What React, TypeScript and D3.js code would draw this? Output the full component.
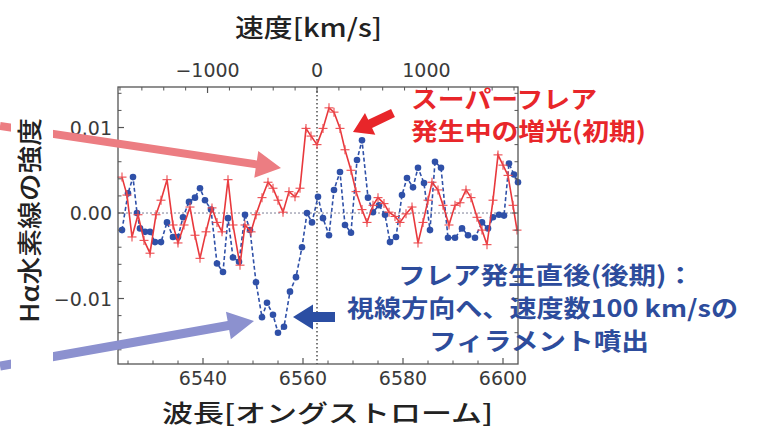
import React from 'react';
import * as d3 from 'd3';

// ---- data ----
const H_ALPHA = 6562.8;
const C_KMS = 299792.458;
const wavelengthDomain = [6523, 6603];
const intensityDomain = [-0.01766, 0.01474];

const blueWave = [6523.8, 6525.0, 6526.0, 6526.8, 6527.4, 6528.4, 6529.4, 6530.4, 6531.6, 6532.8, 6534.0, 6535.0, 6536.0, 6537.2, 6538.4, 6539.4, 6540.4, 6541.6, 6542.8, 6544.0, 6545.0, 6546.0, 6547.2, 6548.4, 6549.4, 6550.6, 6551.8, 6552.8, 6554.0, 6555.0, 6556.2, 6557.4, 6558.6, 6559.8, 6560.8, 6561.8, 6563.0, 6564.0, 6565.2, 6566.2, 6567.4, 6568.4, 6569.6, 6570.8, 6571.8, 6573.0, 6574.0, 6575.2, 6576.4, 6577.4, 6578.6, 6579.8, 6580.8, 6582.0, 6583.0, 6584.2, 6585.4, 6586.4, 6587.6, 6589.0, 6590.4, 6591.8, 6593.0, 6594.4, 6595.8, 6597.0, 6598.0, 6599.2, 6600.2, 6601.2, 6602.2, 6603.0];
const blueValue = [-0.0020, 0.0023, 0.0042, 0.0000, -0.0018, -0.0022, -0.0022, -0.0034, -0.0034, -0.0011, -0.0028, -0.0028, -0.0005, 0.0013, 0.0018, 0.0029, 0.0015, 0.0004, -0.0059, -0.0069, -0.0006, -0.0052, -0.0057, -0.0002, -0.0020, -0.0081, -0.0122, -0.0105, -0.0119, -0.0140, -0.0133, -0.0092, -0.0075, -0.0040, 0.0000, -0.0011, 0.0019, -0.0006, -0.0026, 0.0027, 0.0048, -0.0014, -0.0023, 0.0062, 0.0085, 0.0018, 0.0001, 0.0009, -0.0002, -0.0034, -0.0028, 0.0021, 0.0041, 0.0030, 0.0053, 0.0035, -0.0020, 0.0060, 0.0053, -0.0029, -0.0029, -0.0018, -0.0026, -0.0029, -0.0011, -0.0018, -0.0005, -0.0002, -0.0003, 0.0058, 0.0045, 0.0036];

const redWave = [6523.8, 6524.8, 6525.8, 6527.0, 6528.2, 6529.4, 6530.6, 6531.6, 6532.8, 6534.0, 6535.0, 6536.2, 6537.4, 6538.4, 6539.4, 6540.6, 6541.8, 6542.8, 6543.8, 6545.0, 6546.0, 6547.4, 6548.4, 6549.6, 6550.6, 6551.8, 6553.0, 6554.0, 6555.0, 6556.0, 6557.2, 6558.4, 6559.4, 6560.6, 6561.6, 6562.8, 6564.0, 6565.2, 6566.2, 6567.4, 6568.4, 6569.6, 6570.6, 6571.8, 6572.8, 6574.0, 6575.0, 6576.2, 6577.2, 6578.4, 6579.4, 6580.6, 6581.8, 6583.0, 6584.0, 6585.0, 6585.8, 6587.0, 6588.0, 6589.2, 6590.4, 6591.4, 6592.6, 6593.6, 6594.8, 6595.8, 6596.8, 6598.0, 6599.0, 6600.0, 6601.0, 6602.0, 6602.8];
const redValue = [0.0042, 0.0021, -0.0028, -0.0002, -0.0032, -0.0047, -0.0002, 0.0015, 0.0039, -0.0014, -0.0035, -0.0014, 0.0007, -0.0026, -0.0053, -0.0022, 0.0006, -0.0011, -0.0022, 0.0039, -0.0014, -0.0061, -0.0014, -0.0022, -0.0002, 0.0018, 0.0036, 0.0029, 0.0015, 0.0001, 0.0025, 0.0019, 0.0029, 0.0099, 0.0090, 0.0080, 0.0099, 0.0123, 0.0118, 0.0099, 0.0074, 0.0050, 0.0025, 0.0004, -0.0011, 0.0009, 0.0018, 0.0011, 0.0001, -0.0004, -0.0011, -0.0001, 0.0007, -0.0035, -0.0011, 0.0015, 0.0036, 0.0027, 0.0009, -0.0014, 0.0009, 0.0012, 0.0027, 0.0018, -0.0005, -0.0020, -0.0037, 0.0015, 0.0068, 0.0056, 0.0044, 0.0009, -0.0020];

const waveTicks = [6540, 6560, 6580, 6600];
const waveMinorTicks = [6525, 6530, 6535, 6545, 6550, 6555, 6565, 6570, 6575, 6585, 6590, 6595];
const velocityTicks = [-1000, 0, 1000];
const velocityMinorTicks = [-1800, -1600, -1400, -1200, -800, -600, -400, -200, 200, 400, 600, 800, 1200, 1400, 1600, 1800];
const intensityTicks = [-0.01, 0, 0.01];
const intensityMinorTicks = [-0.016, -0.014, -0.012, -0.008, -0.006, -0.004, -0.002, 0.002, 0.004, 0.006, 0.008, 0.012, 0.014];

const redTitle = ['スーパーフレア', '発生中の増光(初期)'];
const blueTitle = ['フレア発生直後(後期)：', '視線方向へ、速度数100 km/sの', 'フィラメント噴出'];

// arrows: [tailWave, tailValue, tipWave, tipValue]
const bigRedArrow = [6499.4, 0.01018, 6555.6, 0.00526];
const bigBlueArrow = [6499.4, -0.01789, 6550.2, -0.01263];
const smallRedArrow = [6578.0, 0.0117, 6570.0, 0.00947];
const smallBlueArrow = [6566.4, -0.01216, 6558.0, -0.01216];

const fmtVel = (v: number) => (v < 0 ? '\u2212' + Math.abs(v) : String(v));
const fmtInt = (v: number) => (v < 0 ? '\u2212' : '') + Math.abs(v).toFixed(2);

function arrowPath(x1: number, y1: number, x2: number, y2: number, sw: number, hl: number, hw: number) {
  const dx = x2 - x1, dy = y2 - y1;
  const L = Math.hypot(dx, dy);
  const ux = dx / L, uy = dy / L;
  const nx = -uy, ny = ux;
  const bx = x2 - ux * hl, by = y2 - uy * hl;
  const p = d3.path();
  p.moveTo(x1 + nx * sw / 2, y1 + ny * sw / 2);
  p.lineTo(bx + nx * sw / 2, by + ny * sw / 2);
  p.lineTo(bx + nx * hw / 2, by + ny * hw / 2);
  p.lineTo(x2, y2);
  p.lineTo(bx - nx * hw / 2, by - ny * hw / 2);
  p.lineTo(bx - nx * sw / 2, by - ny * sw / 2);
  p.lineTo(x1 - nx * sw / 2, y1 - ny * sw / 2);
  p.closePath();
  return p.toString();
}

export default function App() {
  const W = 762, H = 430;
  const x = d3.scaleLinear().domain(wavelengthDomain).range([118, 518]);
  const y = d3.scaleLinear().domain(intensityDomain).range([364, 87]);
  const velToWave = (v: number) => H_ALPHA * (1 + v / C_KMS);

  const blue = d3.zip(blueWave, blueValue) as [number, number][];
  const red = d3.zip(redWave, redValue) as [number, number][];
  const line = d3.line<[number, number]>().x(d => x(d[0])).y(d => y(d[1]));

  const [x0, x1] = x.range();
  const [yb, yt] = y.range();

  const tickFont = "'DejaVu Sans', sans-serif";
  const jpFont = "'Noto Sans CJK JP', sans-serif";
  const axisColor = '#555';
  const labelColor = '#3a3a3a';

  const arrow = (a: number[], sw: number, hl: number, hw: number) =>
    arrowPath(x(a[0]), y(a[1]), x(a[2]), y(a[3]), sw, hl, hw);

  return (
    <svg width={W} height={H} style={{ position: 'absolute', left: 0, top: 0, background: '#fff' }}>
      <rect x={0} y={0} width={W} height={H} fill="#fff" />
      {/* reference lines */}
      <line x1={x0} x2={x1} y1={y(0)} y2={y(0)} stroke="#7d7f95" strokeWidth={1} strokeDasharray="2,2" />
      <line x1={x(H_ALPHA)} x2={x(H_ALPHA)} y1={yt} y2={yb} stroke="#222" strokeWidth={1.2} strokeDasharray="1.5,2.5" />

      {/* blue series */}
      <path d={line(blue) || ''} fill="none" stroke="#2f50a8" strokeWidth={1.6} strokeDasharray="4,2.5" />
      {blue.map((d, i) => (
        <circle key={'b' + i} cx={x(d[0])} cy={y(d[1])} r={3.3} fill="#2f50a8" />
      ))}

      {/* red series */}
      <path d={line(red) || ''} fill="none" stroke="#e8383c" strokeWidth={1.6} />
      {red.map((d, i) => (
        <g key={'r' + i} stroke="#ec4a4e" strokeWidth={1.1}>
          <line x1={x(d[0]) - 4.5} x2={x(d[0]) + 4.5} y1={y(d[1])} y2={y(d[1])} />
          <line x1={x(d[0])} x2={x(d[0])} y1={y(d[1]) - 4.5} y2={y(d[1]) + 4.5} />
        </g>
      ))}

      {/* frame */}
      <rect x={x0} y={yt} width={x1 - x0} height={yb - yt} fill="none" stroke={axisColor} strokeWidth={1.3} />

      {/* bottom axis ticks */}
      {waveTicks.map(t => (
        <g key={'wt' + t}>
          <line x1={x(t)} x2={x(t)} y1={yb} y2={yb - 6} stroke={axisColor} strokeWidth={1.2} />
          <text x={x(t)} y={385} textAnchor="middle" fontFamily={tickFont} fontSize={19} fill={labelColor}>{t}</text>
        </g>
      ))}
      {waveMinorTicks.map(t => (
        <line key={'wm' + t} x1={x(t)} x2={x(t)} y1={yb} y2={yb - 3.5} stroke={axisColor} strokeWidth={1} />
      ))}

      {/* top axis ticks (velocity) */}
      {velocityTicks.map(v => (
        <g key={'vt' + v}>
          <line x1={x(velToWave(v))} x2={x(velToWave(v))} y1={yt} y2={yt + 6} stroke={axisColor} strokeWidth={1.2} />
          <text x={x(velToWave(v))} y={77} textAnchor="middle" fontFamily={tickFont} fontSize={19} fill={labelColor}>{fmtVel(v)}</text>
        </g>
      ))}
      {velocityMinorTicks.map(v => (
        <line key={'vm' + v} x1={x(velToWave(v))} x2={x(velToWave(v))} y1={yt} y2={yt + 3.5} stroke={axisColor} strokeWidth={1} />
      ))}

      {/* left / right axis ticks */}
      {intensityTicks.map(t => (
        <g key={'it' + t}>
          <line x1={x0} x2={x0 + 6} y1={y(t)} y2={y(t)} stroke={axisColor} strokeWidth={1.2} />
          <line x1={x1} x2={x1 - 6} y1={y(t)} y2={y(t)} stroke={axisColor} strokeWidth={1.2} />
          <text x={112} y={y(t) + 7} textAnchor="end" fontFamily={tickFont} fontSize={19} fill={labelColor}>{fmtInt(t)}</text>
        </g>
      ))}
      {intensityMinorTicks.map(t => (
        <g key={'im' + t}>
          <line x1={x0} x2={x0 + 3.5} y1={y(t)} y2={y(t)} stroke={axisColor} strokeWidth={1} />
          <line x1={x1} x2={x1 - 3.5} y1={y(t)} y2={y(t)} stroke={axisColor} strokeWidth={1} />
        </g>
      ))}

      {/* big annotation arrows */}
      <path d={arrow(bigRedArrow, 8, 25, 27)} fill="#ec7d82" />
      <path d={arrow(bigBlueArrow, 9, 26, 28)} fill="#8c91cf" />
      <path d={arrow(smallRedArrow, 9, 19, 24)} fill="#e8262a" />
      <path d={arrow(smallBlueArrow, 10, 20, 25)} fill="#2b4ea3" />

      {/* y label with white background */}
      <rect x={11} y={100} width={42} height={290} fill="#fff" />
      <text transform="translate(39,220.5) rotate(-90)" textAnchor="middle" fontFamily={jpFont} fontWeight={500} fontSize={25} fill="#222" textLength={205} lengthAdjust="spacingAndGlyphs">Hα水素線の強度</text>

      {/* axis titles */}
      <text x={235} y={37} fontFamily={jpFont} fontWeight={500} fontSize={25} fill="#222" textLength={147} lengthAdjust="spacingAndGlyphs">速度[km/s]</text>
      <text x={162} y={422} fontFamily={jpFont} fontWeight={500} fontSize={24} fill="#222" textLength={331} lengthAdjust="spacingAndGlyphs">波長[オングストローム]</text>

      {/* red annotation */}
      <text x={411} y={108} fontFamily={jpFont} fontWeight={700} fontSize={24} fill="#e8262a" textLength={186} lengthAdjust="spacingAndGlyphs">{redTitle[0]}</text>
      <text x={411} y={140} fontFamily={jpFont} fontWeight={700} fontSize={24} fill="#e8262a" textLength={235} lengthAdjust="spacingAndGlyphs">{redTitle[1]}</text>

      {/* blue annotation */}
      <text x={398} y={284} fontFamily={jpFont} fontWeight={700} fontSize={24} fill="#2d4c9c" textLength={296} lengthAdjust="spacingAndGlyphs">{blueTitle[0]}</text>
      <text x={347} y={317} fontFamily={jpFont} fontWeight={700} fontSize={23.5} fill="#2d4c9c" textLength={391} lengthAdjust="spacingAndGlyphs">{blueTitle[1]}</text>
      <text x={429} y={350} fontFamily={jpFont} fontWeight={700} fontSize={24} fill="#2d4c9c" textLength={220} lengthAdjust="spacingAndGlyphs">{blueTitle[2]}</text>
    </svg>
  );
}
